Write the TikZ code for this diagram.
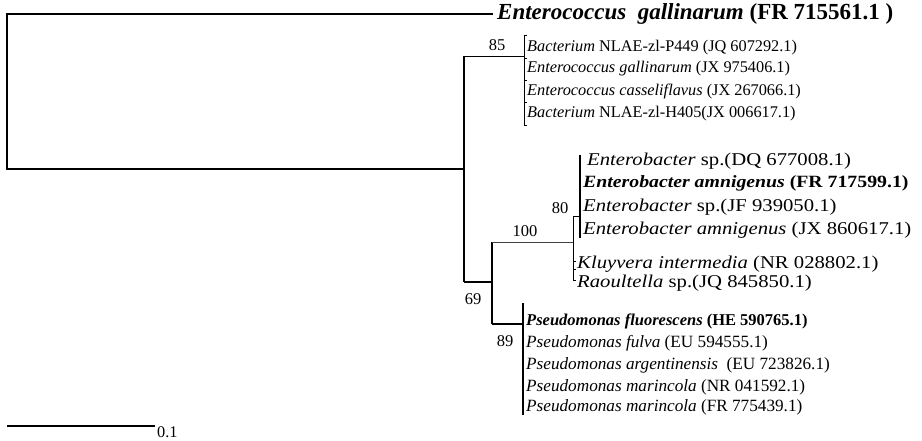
\documentclass[tikz,border=0pt]{standalone}
\usepackage{fontspec}
\setmainfont{Liberation Serif}
\newfontfamily\widefont{Liberation Serif}[FakeStretch=1.15]
\usetikzlibrary{calc}

\begin{document}
\begin{tikzpicture}[x=1pt, y=-1pt,
  taxon/.style={anchor=west, inner sep=0pt, font=\fontsize{16.3}{19}\selectfont},
  bigtaxon/.style={taxon, font=\widefont\fontsize{18}{21}\selectfont},
  midtaxon/.style={taxon, font=\fontsize{17.2}{19}\selectfont},
  boot/.style={inner sep=0pt, font=\fontsize{16.5}{19}\selectfont},
  branch/.style={line width=2.2pt, line join=miter},
  twig/.style={line width=1pt},
  tick/.style={line width=0.8pt},
]
  \useasboundingbox (0,0) rectangle (922,440);

  % internal nodes of the tree
  \coordinate (root) at (7,91);
  \coordinate (outg) at (493,14);
  \coordinate (ing)  at (464,169);
  \coordinate (entc) at (524,56);
  \coordinate (c69)  at (492,282);
  \coordinate (c100) at (573,242);
  \coordinate (c80)  at (580,216);
  \coordinate (pse)  at (523,324);

  % taxa
  \node[taxon, font=\fontsize{23}{25}\selectfont\bfseries] (t1) at (497,14)
    {\textit{Enterococcus\ \ gallinarum} (FR 715561.1 )};
  \node[taxon] (t2) at (527,48) {\textit{Bacterium} NLAE-zl-P449 (JQ 607292.1)};
  \node[taxon] (t3) at (527,69) {\textit{Enterococcus gallinarum} (JX 975406.1)};
  \node[taxon] (t4) at (527,91) {\textit{Enterococcus casseliflavus} (JX 267066.1)};
  \node[taxon] (t5) at (527,114) {\textit{Bacterium} NLAE-zl-H405(JX 006617.1)};
  \node[bigtaxon] (t6) at (587,161) {\textit{Enterobacter} sp.(DQ 677008.1)};
  \node[bigtaxon, font=\widefont\fontsize{17.2}{21}\selectfont\bfseries] (t7) at (583,183)
    {\textit{Enterobacter amnigenus} (FR 717599.1)};
  \node[bigtaxon] (t8) at (583,207) {\textit{Enterobacter} sp.(JF 939050.1)};
  \node[bigtaxon] (t9) at (583,230) {\textit{Enterobacter amnigenus} (JX 860617.1)};
  \node[bigtaxon] (t10) at (577,264) {\textit{Kluyvera intermedia} (NR 028802.1)};
  \node[bigtaxon] (t11) at (577,283) {\textit{Raoultella} sp.(JQ 845850.1)};
  \node[midtaxon, font=\fontsize{16.5}{19}\selectfont\bfseries] (t12) at (526,321)
    {\textit{Pseudomonas fluorescens} (HE 590765.1)};
  \node[midtaxon] (t13) at (526,343) {\textit{Pseudomonas fulva} (EU 594555.1)};
  \node[midtaxon] (t14) at (526,365) {\textit{Pseudomonas argentinensis}\ \ (EU 723826.1)};
  \node[midtaxon] (t15) at (526,387) {\textit{Pseudomonas marincola} (NR 041592.1)};
  \node[midtaxon] (t16) at (526,407) {\textit{Pseudomonas marincola} (FR 775439.1)};

  % bootstrap values
  \node[boot] (b85)  at (497,45)  {85};
  \node[boot] (b100) at (525,231) {100};
  \node[boot] (b80)  at (560,208) {80};
  \node[boot] (b69)  at (473,299) {69};
  \node[boot] (b89)  at (505,341) {89};

  % branches
  \draw[branch] (outg) -| (root) |- (ing);
  \draw[branch] (ing |- entc) -- (ing |- c69);
  \draw[twig] (ing |- entc) -- (entc);
  \draw[twig] ($(entc |- t2)+(0,-13)$) -- ($(entc |- t5)+(0,11)$);
  \foreach \yy in {35,58,80,102,125}
    \draw[tick] (524,\yy) -- ++(3,0);
  \draw[branch] (ing |- c69) -- (c69);
  \draw[branch] (c69 |- c100) -- (c69 |- pse);
  \draw[twig, black!75] (c69 |- c100) -- (c100);
  \draw[twig] (c100 |- c80) -- ($(c100 |- t11)+(0,-3)$);
  \draw[twig] (c100 |- c80) -- (c80);
  \draw[branch] ($(c80 |- t6)+(0,-6)$) -- ($(c80 |- t9)+(0,8)$);
  \draw[tick] ($(c100 |- t10)+(0,-3)$) -- ++(3,0);
  \draw[tick] ($(c100 |- t10)+(0,5)$) -- ++(3,0);
  \draw[tick] ($(c100 |- t11)+(0,-3)$) -- ++(3,0);
  \draw[branch] (c69 |- pse) -- (pse);
  \draw[branch] ($(pse |- t12)+(0,-18)$) -- ($(pse |- t16)+(0,8)$);

  % scale bar
  \coordinate (sb0) at (7,426);
  \coordinate (sb1) at (155,426);
  \draw[branch, line width=1.8pt] (sb0) -- (sb1);
  \node[taxon] (sbl) at (157,432) {0.1};
\end{tikzpicture}
\end{document}
